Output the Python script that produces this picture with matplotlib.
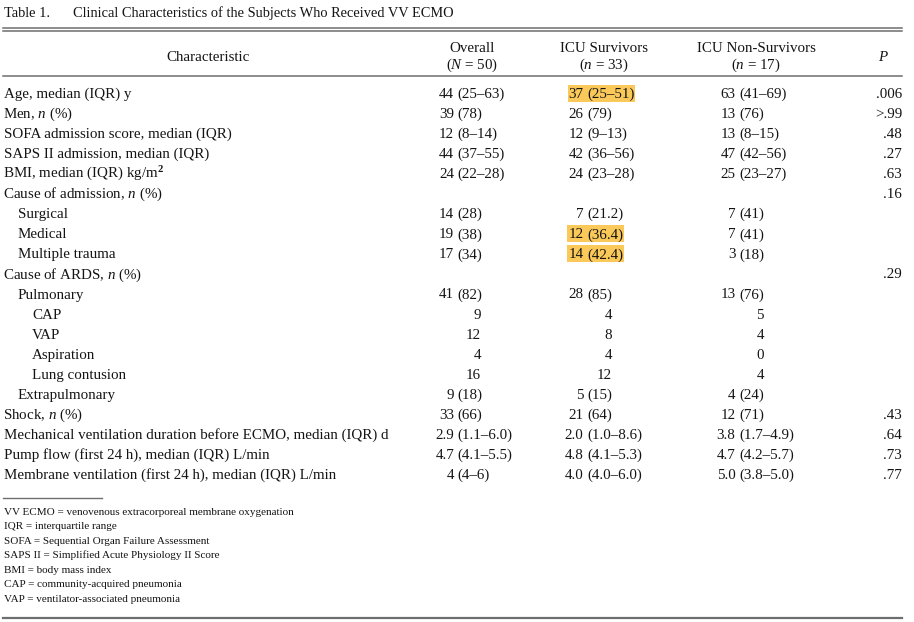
import matplotlib
matplotlib.use("Agg")
import matplotlib.pyplot as plt
from matplotlib.patches import Rectangle

plt.rcParams['font.family'] = ['Liberation Serif', 'DejaVu Serif']
plt.rcParams['mathtext.fontset'] = 'custom'
plt.rcParams['mathtext.rm'] = 'Liberation Serif'
plt.rcParams['mathtext.it'] = 'Liberation Serif:italic'
plt.rcParams['mathtext.bf'] = 'Liberation Serif:bold'

# ---------------- data ----------------
title_num = "Table 1."
title_text = "Clinical Characteristics of the Subjects Who Received VV ECMO"

col_headers = ["Characteristic", "Overall", "ICU Survivors", "ICU Non-Survivors", "$P$"]
col_subheaders = ["", "($N$ = 50)", "($n$ = 33)", "($n$ = 17)", ""]

row_labels = [
    "Age, median (IQR) y",
    "Men, $n$ (%)",
    "SOFA admission score, median (IQR)",
    "SAPS II admission, median (IQR)",
    "BMI, median (IQR) kg/m$^{\\mathbf{2}}$",
    "Cause of admission, $n$ (%)",
    "Surgical",
    "Medical",
    "Multiple trauma",
    "Cause of ARDS, $n$ (%)",
    "Pulmonary",
    "CAP",
    "VAP",
    "Aspiration",
    "Lung contusion",
    "Extrapulmonary",
    "Shock, $n$ (%)",
    "Mechanical ventilation duration before ECMO, median (IQR) d",
    "Pump flow (first 24 h), median (IQR) L/min",
    "Membrane ventilation (first 24 h), median (IQR) L/min",
]
row_indent = [0, 0, 0, 0, 0, 0, 1, 1, 1, 0, 1, 2, 2, 2, 2, 1, 0, 0, 0, 0]

overall = ["44 (25–63)", "39 (78)", "12 (8–14)", "44 (37–55)", "24 (22–28)", "",
           "14 (28)", "19 (38)", "17 (34)", "", "41 (82)", "9", "12", "4", "16",
           "9 (18)", "33 (66)", "2.9 (1.1–6.0)", "4.7 (4.1–5.5)", "4 (4–6)"]
survivors = ["37 (25–51)", "26 (79)", "12 (9–13)", "42 (36–56)", "24 (23–28)", "",
             "7 (21.2)", "12 (36.4)", "14 (42.4)", "", "28 (85)", "4", "8", "4", "12",
             "5 (15)", "21 (64)", "2.0 (1.0–8.6)", "4.8 (4.1–5.3)", "4.0 (4.0–6.0)"]
non_survivors = ["63 (41–69)", "13 (76)", "13 (8–15)", "47 (42–56)", "25 (23–27)", "",
                 "7 (41)", "7 (41)", "3 (18)", "", "13 (76)", "5", "4", "0", "4",
                 "4 (24)", "12 (71)", "3.8 (1.7–4.9)", "4.7 (4.2–5.7)", "5.0 (3.8–5.0)"]
p_values = [".006", ">.99", ".48", ".27", ".63", ".16", "", "", "", ".29", "", "", "", "",
            "", "", ".43", ".64", ".73", ".77"]

# highlighted cells: (row index, column) with column 2 = ICU Survivors
highlighted = [(0, 2), (7, 2), (8, 2)]

footnotes = [
    "VV ECMO = venovenous extracorporeal membrane oxygenation",
    "IQR = interquartile range",
    "SOFA = Sequential Organ Failure Assessment",
    "SAPS II = Simplified Acute Physiology II Score",
    "BMI = body mass index",
    "CAP = community-acquired pneumonia",
    "VAP = ventilator-associated pneumonia",
]

# ---------------- layout ----------------
W, H = 914, 622
fig = plt.figure(figsize=(W / 100, H / 100), dpi=100)
ax = fig.add_axes([0, 0, 1, 1])
ax.set_xlim(0, W)
ax.set_ylim(H, 0)
ax.axis('off')

FS = 10.8
FS_TITLE = 10.4
FS_FOOT = 8.05
TXT = '#141414'
RULE = '#6e6e6e'
HL = '#fbc95a'
BL = 5.0  # baseline offset from row centre (px)

# title
ax.text(4, 17, title_num, fontsize=FS_TITLE, color=TXT, va='baseline', ha='left')
ax.text(73, 17, title_text, fontsize=FS_TITLE, color=TXT, va='baseline', ha='left')

# rules
ax.plot([3, 902], [27.5, 27.5], color=RULE, lw=1.1)
ax.plot([3, 902], [31, 31], color=RULE, lw=1.1)
ax.plot([3, 902], [75.5, 75.5], color=RULE, lw=1.1)
ax.plot([3, 102], [498, 498], color=RULE, lw=1.0)
ax.plot([3, 902], [617.5, 617.5], color=RULE, lw=1.6)

# headers
head_x = [208, 472, 604, 756, 883]
for i, (h, s) in enumerate(zip(col_headers, col_subheaders)):
    if s:
        ax.text(head_x[i], 47 + BL, h, fontsize=FS, color=TXT, ha='center', va='baseline')
        ax.text(head_x[i], 64 + BL, s, fontsize=FS, color=TXT, ha='center', va='baseline')
    else:
        ax.text(head_x[i], 56 + BL, h, fontsize=FS, color=TXT, ha='center', va='baseline')

# body
y0, dy = 93, 20.05
indent_px = [4, 18, 32]
paren_x = [None, 457.5, 587, 739]
single_right = [None, 481, 612, 764]
paren_gap = 3.5
p_right = 902

fig.canvas.draw()
renderer = fig.canvas.get_renderer()

cols = [None, overall, survivors, non_survivors]
for r, lab in enumerate(row_labels):
    y = y0 + r * dy
    yb = y + BL
    lx = indent_px[row_indent[r]] - (1.0 if '$' in lab else 0.0)
    ax.text(lx, yb, lab, fontsize=FS, color=TXT, ha='left', va='baseline')
    for c in (1, 2, 3):
        val = cols[c][r]
        if not val:
            continue
        if '(' in val:
            num, rest = val.split(' ', 1)
            t1 = ax.text(paren_x[c] - paren_gap, yb, num, fontsize=FS, color=TXT,
                         ha='right', va='baseline', zorder=3)
            t2 = ax.text(paren_x[c], yb, rest, fontsize=FS, color=TXT,
                         ha='left', va='baseline', zorder=3)
            if (r, c) in highlighted:
                inv = ax.transData.inverted()
                b1 = t1.get_window_extent(renderer)
                b2 = t2.get_window_extent(renderer)
                (xa, _), (xb, _) = inv.transform([(b1.x0, 0), (b2.x1, 0)])
                ax.add_patch(Rectangle((xa - 1, y - 8.5), (xb - xa) + 2, 17.5,
                                       facecolor=HL, edgecolor='none', zorder=1))
        else:
            ax.text(single_right[c], yb, val, fontsize=FS, color=TXT, ha='right', va='baseline')
    if p_values[r]:
        ax.text(p_right, yb, p_values[r], fontsize=FS, color=TXT, ha='right', va='baseline')

# footnotes
fy0, fdy = 511, 14.5
for i, fn in enumerate(footnotes):
    ax.text(4, fy0 + i * fdy + 3.8, fn, fontsize=FS_FOOT, color=TXT, ha='left', va='baseline')

fig.savefig("out.png", dpi=100, facecolor='white')
